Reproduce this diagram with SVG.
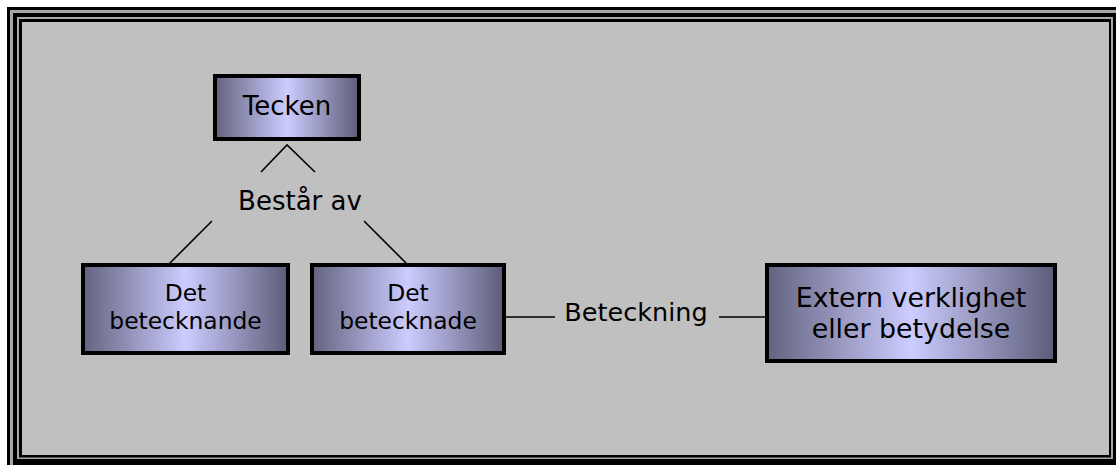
<svg xmlns="http://www.w3.org/2000/svg" width="1116" height="465" viewBox="0 0 1116 465">
<defs>
<linearGradient id="g" x1="0" y1="0" x2="1" y2="0">
<stop offset="0" stop-color="#63637f"/>
<stop offset="0.5" stop-color="#ccccff"/>
<stop offset="1" stop-color="#5c5c78"/>
</linearGradient>
</defs>
<style>
.box{fill:url(#g);stroke:#000;stroke-width:4}
.t{font-family:"DejaVu Sans",Verdana,sans-serif;fill:#000;text-anchor:middle}
.c{stroke:#000;stroke-width:1.6;fill:none}
</style>
<rect width="1116" height="465" fill="#fff"/>
<g id="frame">
<rect x="7" y="7" width="1200" height="600" fill="#000"/>
<rect x="10" y="10" width="1200" height="600" fill="#a6a6a6"/>
<rect x="13" y="13" width="1200" height="600" fill="#000"/>
<rect x="17" y="17" width="1096" height="442" fill="#a6a6a6"/>
<rect x="19" y="19" width="1092" height="438.5" fill="#000"/>
<rect x="22" y="22" width="1087" height="433" fill="#c0c0c0"/>
</g>
<g id="connectors">
<polyline class="c" points="261,172 287,145 315,172"/>
<line class="c" x1="212" y1="221" x2="169" y2="264"/>
<line class="c" x1="364" y1="221" x2="407" y2="264"/>
<line class="c" x1="506" y1="317" x2="555" y2="317"/>
<line class="c" x1="719" y1="317" x2="765" y2="317"/>
<text class="t" x="300" y="210" font-size="26">Består av</text>
<text class="t" x="636" y="321" font-size="25.5">Beteckning</text>
</g>
<g id="tecken">
<rect class="box" x="215" y="76" width="144" height="63"/>
<text class="t" x="287" y="115" font-size="26">Tecken</text>
</g>
<g id="betecknande">
<rect class="box" x="83" y="265" width="205" height="88"/>
<text class="t" x="185.5" y="300.7" font-size="23.4">Det</text>
<text class="t" x="185.5" y="329" font-size="23.4">betecknande</text>
</g>
<g id="betecknade">
<rect class="box" x="312" y="265" width="192" height="88"/>
<text class="t" x="408" y="300.7" font-size="23.4">Det</text>
<text class="t" x="408" y="329" font-size="23.4">betecknade</text>
</g>
<g id="extern">
<rect class="box" x="767" y="265" width="288" height="96"/>
<text class="t" x="911" y="307" font-size="26.8">Extern verklighet</text>
<text class="t" x="911" y="337.5" font-size="26.8">eller betydelse</text>
</g>
</svg>
